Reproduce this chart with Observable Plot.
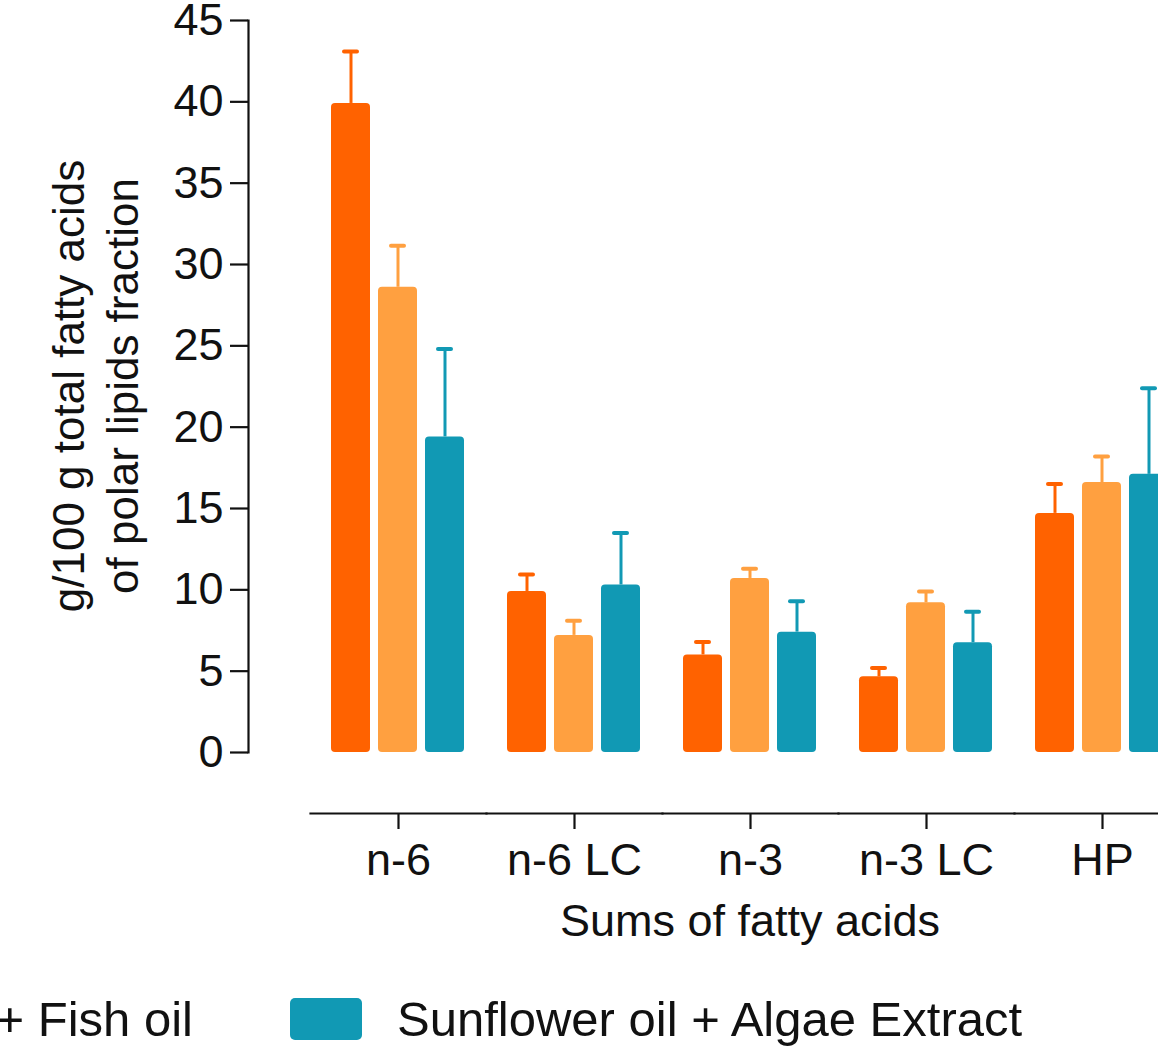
<!DOCTYPE html>
<html><head><meta charset="utf-8">
<script src="https://cdn.jsdelivr.net/npm/d3@7"></script>
<script src="https://cdn.jsdelivr.net/npm/@observablehq/plot@0.6"></script>
<style>
html,body{margin:0;padding:0;background:#fff;overflow:hidden;width:1158px;height:1052px}
body{font-family:"Liberation Sans",Arial,sans-serif;position:relative}
#chart{position:absolute;left:0;top:0;width:1190px}
#chart svg{max-width:none !important;width:1190px;height:960px}
#legend{position:absolute;left:0;top:960px;width:1158px;height:92px}
.item{position:absolute;display:flex;align-items:center;gap:35px;top:38px;height:42px;white-space:nowrap;font-size:49px;color:#111}
.sw{width:72px;height:42px;border-radius:5px;flex:none}
</style></head><body>
<div id="chart"></div><div id="legend"></div>
<script>
const categories = ["n-6", "n-6 LC", "n-3", "n-3 LC", "HP"];
const series = ["Sunflower oil", "Sunflower oil + Fish oil", "Sunflower oil + Algae Extract"];
const colors = ["#FF6200", "#FFA040", "#1199B4"];
const sunflowerMean = [39.9, 9.9, 6.0, 4.65, 14.7];
const sunflowerSD   = [3.2, 1.05, 0.8, 0.55, 1.8];
const fishMean      = [28.6, 7.2, 10.7, 9.2, 16.6];
const fishSD        = [2.55, 0.9, 0.6, 0.7, 1.6];
const algaeMean     = [19.4, 10.3, 7.4, 6.75, 17.1];
const algaeSD       = [5.4, 3.2, 1.9, 1.9, 5.3];
const yTicks = [0, 5, 10, 15, 20, 25, 30, 35, 40, 45];
const xTitle = "Sums of fatty acids";
const yTitle = ["g/100 g total fatty acids", "of polar lipids fraction"];

const means = [sunflowerMean, fishMean, algaeMean];
const sds = [sunflowerSD, fishSD, algaeSD];
const rows = [];
categories.forEach((c, i) => series.forEach((s, j) => rows.push({category: c, series: s, mean: means[j][i], upper: means[j][i] + sds[j][i]})));

const FONT = "'Liberation Sans', Arial, sans-serif";
const plot = Plot.plot({
  width: 1190, height: 960,
  marginTop: 20, marginBottom: 208, marginLeft: 310, marginRight: 0,
  style: {fontFamily: FONT, fontSize: "45px", color: "#111", background: "transparent", overflow: "visible"},
  fx: {domain: categories, padding: 0, label: null, axis: null},
  x: {domain: series, paddingInner: 1/6, paddingOuter: 5/12, axis: null},
  y: {domain: [0, 45], axis: null},
  color: {domain: series, range: colors},
  marks: [
    Plot.frame({anchor: "bottom", dy: 61, strokeWidth: 2.2, stroke: "#111"}),
    Plot.frame({anchor: "left", facetAnchor: "left", dx: -62, strokeWidth: 2.2, stroke: "#111"}),
    Plot.axisY({ticks: yTicks, tickSize: 18, tickPadding: 7, dx: -62, label: null, strokeWidth: 2.2}),
    Plot.axisFx({anchor: "bottom", dy: 61, tickSize: 16, tickPadding: 14, label: null, strokeWidth: 2.2}),
    Plot.ruleX(rows, {fx: "category", x: "series", y1: "mean", y2: "upper", stroke: "series", strokeWidth: 3}),
    Plot.tickY(rows, {fx: "category", x: "series", y: "upper", stroke: "series", strokeWidth: 4, strokeLinecap: "round", inset: 13}),
    Plot.barY(rows, {fx: "category", x: "series", y: "mean", fill: "series", rx: 4})
  ]
});
document.getElementById("chart").append(plot);

const svg = d3.select(plot);
const ys = plot.scale("y");
const fxs = plot.scale("fx");
const yMid = (ys.apply(0) + ys.apply(45)) / 2;
const t = svg.append("text")
  .attr("transform", `translate(84,${yMid}) rotate(-90)`)
  .attr("text-anchor", "middle").attr("fill", "#111")
  .style("font-family", FONT).style("font-size", "44px");
t.append("tspan").attr("x", 0).attr("y", 0).text(yTitle[0]);
t.append("tspan").attr("x", 0).attr("y", 54).text(yTitle[1]);
const xMid = (fxs.range[0] + fxs.range[1]) / 2;
svg.append("text").attr("x", xMid).attr("y", 936).attr("text-anchor", "middle").attr("fill", "#111")
  .style("font-family", FONT).style("font-size", "45px").text(xTitle);

const legend = d3.select("#legend");
function item(name, color, pos) {
  const it = legend.append("div").attr("class", "item");
  Object.entries(pos).forEach(([k, v]) => it.style(k, v));
  it.append("div").attr("class", "sw").style("background", color);
  it.append("span").text(name);
}
item(series[1], colors[1], {right: (1158 - 193) + "px"});
item(series[2], colors[2], {left: "290px"});
</script>
</body></html>
